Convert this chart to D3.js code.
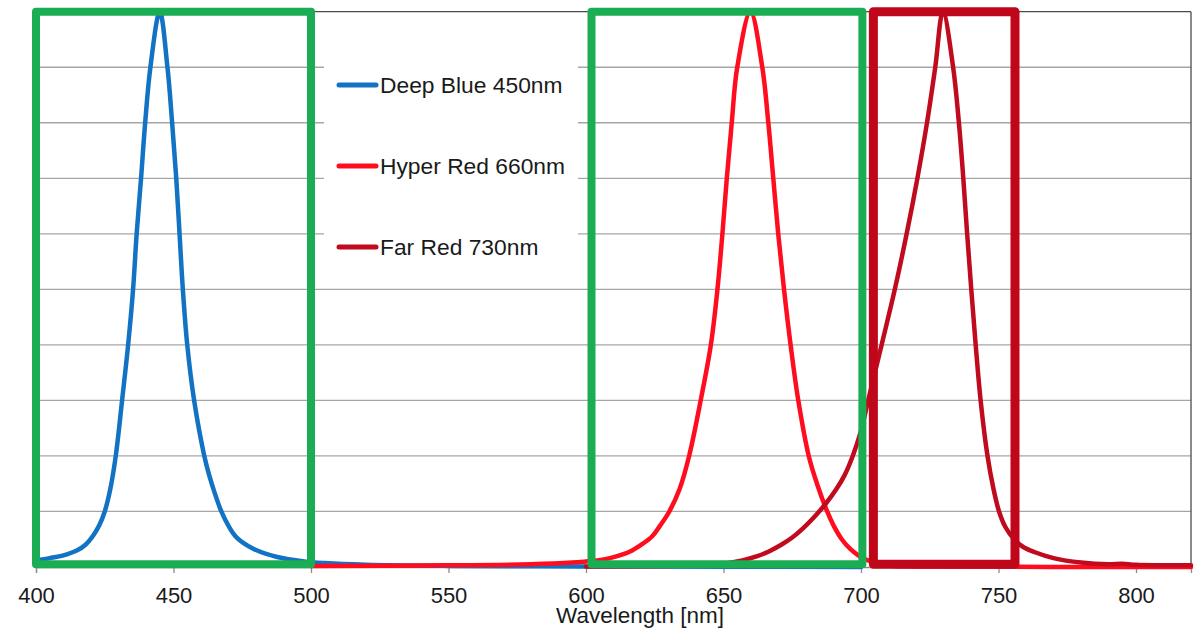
<!DOCTYPE html>
<html>
<head>
<meta charset="utf-8">
<script src="https://cdn.jsdelivr.net/npm/d3@7"></script>
<style>
  html, body { margin: 0; padding: 0; background: #fff; }
  svg { display: block; font-family: "Liberation Sans", Arial, sans-serif; }
</style>
</head>
<body>
<svg id="chart" width="1200" height="634"></svg>
<script>
// ---- data ----
const seriesNames = ["Deep Blue 450nm", "Hyper Red 660nm", "Far Red 730nm"];
const seriesColors = ["#1272c3", "#ff0d1f", "#c00a1e"];

const blueWl = [400,405,410,415,418,421,423,425,427,429,431.3,433.5,435.3,436.6,438.2,439.7,441.6,445,447.8,449.5,451,452.2,453.4,455,457.5,461.2,463,465,467.4,470,473,479,487.7,497.5,505,520,550,600,650,700];
const blueVal = [0.012,0.016,0.021,0.03,0.04,0.058,0.075,0.10,0.14,0.20,0.30,0.40,0.50,0.60,0.70,0.80,0.90,1.0,0.90,0.80,0.70,0.60,0.50,0.40,0.30,0.20,0.165,0.133,0.10,0.074,0.053,0.033,0.018,0.010,0.007,0.004,0.002,0.001,0.0005,0];

const redWl = [500,550,580,595,600,606,611,616,620,624,627,630.3,634,637.5,641.7,645.4,647.8,649.6,651.2,653,655,659.8,664.1,666.3,668.1,669.9,672,674.4,677.2,681,684,687.7,690,693,696,699,702,706,712,720,820];
const redVal = [0.002,0.003,0.005,0.008,0.010,0.013,0.019,0.028,0.04,0.055,0.075,0.10,0.14,0.20,0.30,0.40,0.50,0.60,0.70,0.80,0.90,1.0,0.90,0.80,0.70,0.60,0.50,0.40,0.30,0.20,0.15,0.10,0.075,0.05,0.033,0.021,0.013,0.006,0.002,0.001,0];

const farWl = [600,630,645,650,656.9,662,666.5,671,675,679,683,687,691,694,697,700,702.6,707.5,712.3,716.6,720.5,724,727,729.8,733.5,735.6,737.2,738.6,740.1,741.7,743.5,746,748,750.2,752.5,755.7,759,763,770,780,790,795,800,820];
const farVal = [0.001,0.002,0.004,0.006,0.012,0.019,0.028,0.04,0.053,0.07,0.09,0.113,0.14,0.165,0.20,0.245,0.30,0.40,0.50,0.60,0.70,0.80,0.90,1.0,0.90,0.80,0.70,0.60,0.50,0.40,0.30,0.20,0.145,0.10,0.072,0.05,0.036,0.027,0.016,0.008,0.005,0.006,0.004,0.003];

const xTicks = [400,450,500,550,600,650,700,750,800];
const yGrid = [0.1,0.2,0.3,0.4,0.5,0.6,0.7,0.8,0.9];

// highlighted wavelength bands
const bandStart = [400, 602, 704.5];
const bandEnd = [500, 700.5, 756];
const bandColors = ["#1aad54", "#1aad54", "#c0061b"];
const bandWidths = [8, 8, 9];

const xTitle = "Wavelength [nm]";

// ---- layout ----
const svg = d3.select("#chart");
const x = d3.scaleLinear().domain([400, 820]).range([36, 1191]);
const y = d3.scaleLinear().domain([0, 1]).range([567, 11.7]);

// gridlines
svg.append("g").selectAll("line").data(yGrid).join("line")
  .attr("x1", x(400)).attr("x2", x(820))
  .attr("y1", d => y(d)).attr("y2", d => y(d))
  .attr("stroke", "#a6a6a6").attr("stroke-width", 1.3);

// frame top and right
svg.append("line").attr("x1", x(400)).attr("x2", x(820)).attr("y1", y(1)).attr("y2", y(1))
  .attr("stroke", "#4a4a4a").attr("stroke-width", 1.3);
svg.append("line").attr("x1", x(820)).attr("x2", x(820)).attr("y1", y(1)).attr("y2", y(0))
  .attr("stroke", "#4a4a4a").attr("stroke-width", 1.3);

// x axis
const xAxis = d3.axisBottom(x).tickValues(xTicks).tickSize(6).tickPadding(14).tickFormat(d3.format("d"));
const gx = svg.append("g").attr("transform", `translate(0,${y(0)})`).call(xAxis);
gx.select(".domain").attr("stroke", "#8c8c8c").attr("stroke-width", 1.3);
gx.selectAll(".tick line").attr("stroke", "#8c8c8c").attr("stroke-width", 1.3);
gx.selectAll(".tick text").attr("fill", "#1a1a1a").style("font-size", "22px")
  .style("font-family", "'Liberation Sans', Arial, sans-serif");

svg.append("text").attr("x", 640).attr("y", 623).attr("text-anchor", "middle")
  .attr("fill", "#1a1a1a").style("font-size", "22.5px").text(xTitle);

// legend background
svg.append("rect").attr("x", 324).attr("y", 24).attr("width", 254).attr("height", 248).attr("fill", "#fff");

// curves
const series = [
  blueWl.map((w, i) => [w, blueVal[i]]),
  redWl.map((w, i) => [w, redVal[i]]),
  farWl.map((w, i) => [w, farVal[i]])
];
const line = d3.line().x(d => x(d[0])).y(d => y(d[1])).curve(d3.curveCatmullRom.alpha(0.5));
svg.append("g").selectAll("path").data(series).join("path")
  .attr("d", line).attr("fill", "none")
  .attr("stroke", (d, i) => seriesColors[i]).attr("stroke-width", 4.5)
  .attr("stroke-linejoin", "round").attr("stroke-linecap", "round");

// legend
const legendY = [85, 166, 247];
const lg = svg.append("g").selectAll("g").data(seriesNames).join("g")
  .attr("transform", (d, i) => `translate(0,${legendY[i]})`);
lg.append("line").attr("x1", 339).attr("x2", 376).attr("y1", 0).attr("y2", 0)
  .attr("stroke", (d, i) => seriesColors[i]).attr("stroke-width", 5).attr("stroke-linecap", "round");
lg.append("text").attr("x", 380).attr("y", 0).attr("dy", "0.36em")
  .attr("fill", "#1a1a1a").style("font-size", "22.8px").text(d => d);

// band boxes
svg.append("g").selectAll("rect").data(bandStart).join("rect")
  .attr("x", (d, i) => x(d)).attr("y", y(1.0))
  .attr("width", (d, i) => x(bandEnd[i]) - x(d))
  .attr("height", y(0.005) - y(1.0))
  .attr("fill", "none")
  .attr("stroke", (d, i) => bandColors[i])
  .attr("stroke-width", (d, i) => bandWidths[i])
  .attr("stroke-linejoin", "round");
</script>
</body>
</html>
